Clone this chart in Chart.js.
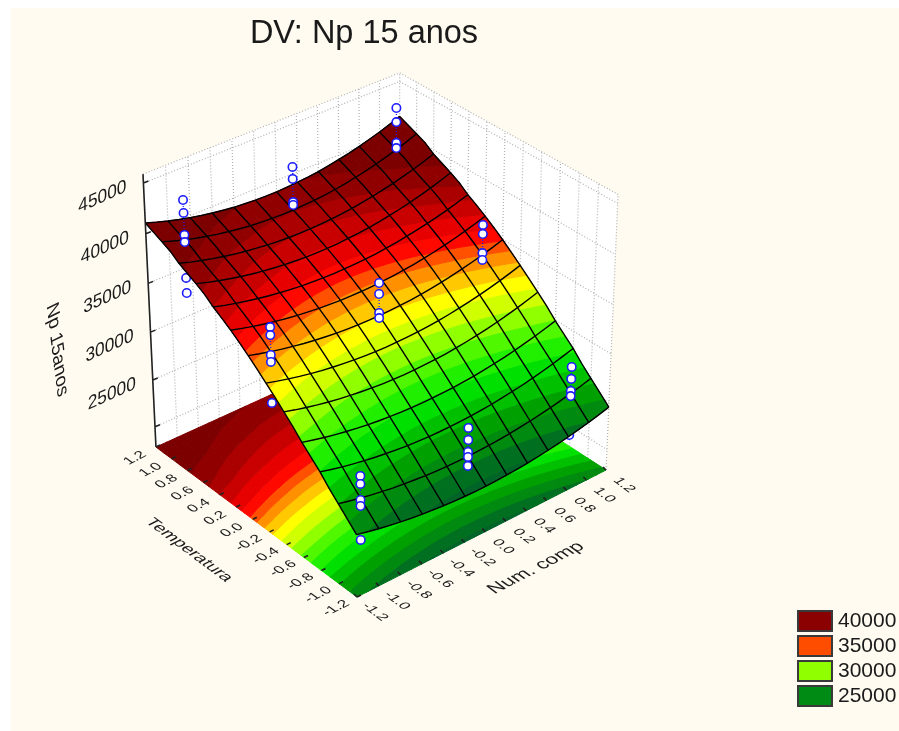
<!DOCTYPE html>
<html><head><meta charset="utf-8">
<style>html,body{margin:0;padding:0;background:#fff}canvas{display:block}</style>
<script src="https://cdn.jsdelivr.net/npm/chart.js@4"></script></head>
<body><canvas id="c" width="899" height="731"></canvas>
<script>
const titleText = 'DV: Np 15 anos';
const tempTicks = [1.2,1.0,0.8,0.6,0.4,0.2,0.0,-0.2,-0.4,-0.6,-0.8,-1.0,-1.2];
const compTicks = [-1.2,-1.0,-0.8,-0.6,-0.4,-0.2,0.0,0.2,0.4,0.6,0.8,1.0,1.2];
const zTicks = [45000,40000,35000,30000,25000];
const zGrid = [45000,40000,35000,30000,25000,20000];
const gridT = [-1.2,-1.1,-1.0,-0.9,-0.8,-0.7,-0.6,-0.5,-0.4,-0.3,-0.2,-0.1,0,0.1,0.2,0.3,0.4,0.5,0.6,0.7,0.8,0.9,1.0,1.1,1.2];
const gridN = gridT.slice();
const surfaceZ = [
[24230,23960,23710,23490,23300,23120,22980,22860,22750,22680,22630,22600,22600,22630,22670,22740,22840,22960,23110,23280,23470,23690,23930,24200,24490],
[25130,24860,24610,24390,24200,24020,23880,23760,23650,23580,23530,23500,23500,23530,23570,23640,23740,23860,24010,24180,24370,24590,24830,25100,25390],
[26030,25760,25510,25290,25100,24920,24780,24660,24550,24480,24430,24400,24400,24430,24470,24540,24640,24760,24910,25080,25270,25490,25730,26000,26290],
[26930,26660,26410,26190,26000,25820,25680,25560,25450,25380,25330,25300,25300,25330,25370,25440,25540,25660,25810,25980,26170,26390,26630,26900,27190],
[27940,27650,27380,27150,26940,26750,26600,26470,26360,26280,26230,26200,26200,26230,26280,26350,26450,26590,26750,26920,27130,27370,27620,27910,28220],
[28790,28500,28230,28000,27790,27600,27450,27320,27210,27130,27080,27050,27050,27080,27130,27200,27300,27440,27600,27770,27980,28220,28470,28760,29070],
[29640,29350,29080,28850,28640,28450,28300,28170,28060,27980,27930,27900,27900,27930,27980,28050,28150,28290,28450,28620,28830,29070,29320,29610,29920],
[30600,30290,30010,29760,29540,29340,29180,29040,28920,28840,28780,28750,28750,28780,28830,28910,29020,29160,29330,29520,29740,29990,30260,30570,30900],
[31450,31140,30860,30610,30390,30190,30030,29890,29770,29690,29630,29600,29600,29630,29680,29760,29870,30010,30180,30370,30590,30840,31110,31420,31750],
[32300,31990,31710,31460,31240,31040,30880,30740,30620,30540,30480,30450,30450,30480,30530,30610,30720,30860,31030,31220,31440,31690,31960,32270,32600],
[33100,32790,32510,32260,32040,31840,31680,31540,31420,31340,31280,31250,31250,31280,31330,31410,31520,31660,31830,32020,32240,32490,32760,33070,33400],
[33900,33590,33310,33060,32840,32640,32480,32340,32220,32140,32080,32050,32050,32080,32130,32210,32320,32460,32630,32820,33040,33290,33560,33870,34200],
[34650,34340,34060,33810,33590,33390,33230,33090,32970,32890,32830,32800,32800,32830,32880,32960,33070,33210,33380,33570,33790,34040,34310,34620,34950],
[35350,35040,34760,34510,34290,34090,33930,33790,33670,33590,33530,33500,33500,33530,33580,33660,33770,33910,34080,34270,34490,34740,35010,35320,35650],
[36000,35690,35410,35160,34940,34740,34580,34440,34320,34240,34180,34150,34150,34180,34230,34310,34420,34560,34730,34920,35140,35390,35660,35970,36300],
[36600,36290,36010,35760,35540,35340,35180,35040,34920,34840,34780,34750,34750,34780,34830,34910,35020,35160,35330,35520,35740,35990,36260,36570,36900],
[37150,36840,36560,36310,36090,35890,35730,35590,35470,35390,35330,35300,35300,35330,35380,35460,35570,35710,35880,36070,36290,36540,36810,37120,37450],
[37840,37490,37190,36910,36670,36450,36270,36120,35990,35900,35830,35800,35800,35830,35890,35980,36100,36250,36440,36650,36890,37160,37460,37800,38170],
[38340,37990,37690,37410,37170,36950,36770,36620,36490,36400,36330,36300,36300,36330,36390,36480,36600,36750,36940,37150,37390,37660,37960,38300,38670],
[38790,38440,38140,37860,37620,37400,37220,37070,36940,36850,36780,36750,36750,36780,36840,36930,37050,37200,37390,37600,37840,38110,38410,38750,39120],
[39240,38890,38590,38310,38070,37850,37670,37520,37390,37300,37230,37200,37200,37230,37290,37380,37500,37650,37840,38050,38290,38560,38860,39200,39570],
[39870,39500,39160,38860,38600,38360,38170,38000,37850,37760,37690,37650,37650,37690,37750,37840,37970,38140,38350,38570,38840,39140,39460,39830,40230],
[40270,39900,39560,39260,39000,38760,38570,38400,38250,38160,38090,38050,38050,38090,38150,38240,38370,38540,38750,38970,39240,39540,39860,40230,40630],
[40670,40300,39960,39660,39400,39160,38970,38800,38650,38560,38490,38450,38450,38490,38550,38640,38770,38940,39150,39370,39640,39940,40260,40630,41030],
[41070,40700,40360,40060,39800,39560,39370,39200,39050,38960,38890,38850,38850,38890,38950,39040,39170,39340,39550,39770,40040,40340,40660,41030,41430]
];
const highT = [1,1,1,1, 1,1,1,1, 1,1,1,1, 0,0,0,0, 0,0,0,0, 0,0,0,0, -1,-1,-1,-1, -1,-1,-1,-1,-1, -1,-1,-1,-1];
const highN = [-1,-1,-1,-1, 0,0,0,0, 1,1,1,1, -1,-1,-1,-1, 0,0,0,0, 1,1,1,1, -1,-1,-1,-1, 0,0,0,0,0, 1,1,1,1];
const highZ = [43500,42230,40050,39340, 42400,41200,38860,38560, 44100,42670,40540,40020, 36500,35700,33720,33020, 36110,35000,33080,32560, 37370,36450,34500,33790, 27750,26940,25320,24700, 27320,26080,24850,24330,23400, 28480,27240,25980,25450];
const lowT = [1,1,0,-1,-1];
const lowN = [-1,-1,-1,-1,1];
const lowZ = [35730,34200,28870,21220,21350];
const bandFloors = [0,23000,24000,25000,26000,27000,28000,29000,30000,31000,32000,32800,33600,34300,34900,35600,36400,37200,38000,39000];
const bandColors = ['#006428','#007020','#008a10','#00a000','#00c000','#00e000','#20f000','#50f800','#90ff00','#d0ff00','#ffff00','#ffc800','#ff9000','#ff5000','#ff0800','#e60000','#c80000','#aa0000','#900000','#7d0000'];
const legendLabels = ['40000','35000','30000','25000'];
const legendColors = ['#8b0000','#ff4d00','#90ff00','#008b14'];

const zMin = 17820, zMax = 45870;
function project(t, n, z) {
  const u = (t + 1.2) / 2.4, v = (n + 1.2) / 2.4, w = (z - zMin) / (zMax - zMin);
  const a = 0.0746 * u, b = 0.0601 * v, g = -0.0562 * w;
  const h = 1 + a + b + g;
  return { x: (357 + a * -2539 + b * 4750 + g * 391) / h, y: (597 + a * -1563 + b * -1643 + g * 5393) / h };
}
const GAP = { x: null, y: null };
function clipTri(tri, lo, hi) {
  let poly = tri;
  for (const [lim, sign] of [[lo, 1], [hi, -1]]) {
    const out = [];
    for (let i = 0; i < poly.length; i++) {
      const p = poly[i], q = poly[(i + 1) % poly.length];
      const dp = (p.z - lim) * sign, dq = (q.z - lim) * sign;
      if (dp >= 0) out.push(p);
      if ((dp >= 0) !== (dq >= 0)) {
        const f = dp / (dp - dq);
        out.push({ t: p.t + f * (q.t - p.t), n: p.n + f * (q.n - p.n), z: p.z + f * (q.z - p.z) });
      }
    }
    poly = out;
    if (!poly.length) break;
  }
  return poly;
}
function bandData(idx, floorOnly) {
  const lo = bandFloors[idx], hi = idx + 1 < bandFloors.length ? bandFloors[idx + 1] : 1e9;
  const pts = [];
  for (let i = 0; i < gridT.length - 1; i++) for (let j = 0; j < gridN.length - 1; j++) {
    const A = { t: gridT[i], n: gridN[j], z: surfaceZ[i][j] }, B = { t: gridT[i + 1], n: gridN[j], z: surfaceZ[i + 1][j] },
      C = { t: gridT[i + 1], n: gridN[j + 1], z: surfaceZ[i + 1][j + 1] }, D = { t: gridT[i], n: gridN[j + 1], z: surfaceZ[i][j + 1] };
    for (const tri of [[A, B, C], [A, C, D]]) {
      const poly = clipTri(tri, lo, hi);
      if (poly.length < 3) continue;
      for (const p of poly) pts.push(project(p.t, p.n, floorOnly ? zMin : p.z));
      const p0 = poly[0];
      pts.push(project(p0.t, p0.n, floorOnly ? zMin : p0.z));
      pts.push(GAP);
    }
  }
  return pts;
}
function seg(list, a, b) { list.push(a, b, GAP); }
const lineBase = { showLine: true, pointRadius: 0, pointHoverRadius: 0, fill: false, tension: 0, spanGaps: false, clip: false };

const layers = [];
// back walls
const wallL = [project(1.2,-1.2,zMin),project(1.2,1.2,zMin),project(1.2,1.2,zMax),project(1.2,-1.2,zMax)];
const wallR = [project(1.2,1.2,zMin),project(-1.2,1.2,zMin),project(-1.2,1.2,zMax),project(1.2,1.2,zMax)];
layers.push({ ...lineBase, data: [...wallL, wallL[0], GAP, ...wallR, wallR[0]], fill: 'shape', backgroundColor: '#ffffff', borderColor: '#ffffff', borderWidth: 0 });
const wallGrid = [];
for (const z of [...zGrid, zMax]) {
  seg(wallGrid, project(1.2,-1.2,z), project(1.2,1.2,z));
  seg(wallGrid, project(1.2,1.2,z), project(-1.2,1.2,z));
}
for (const n of compTicks) seg(wallGrid, project(1.2,n,zMin), project(1.2,n,zMax));
for (const t of tempTicks) seg(wallGrid, project(t,1.2,zMin), project(t,1.2,zMax));
layers.push({ ...lineBase, data: wallGrid, borderColor: '#b0b0b0', borderWidth: 1.2, borderDash: [1, 2] });
// floor contour map
bandColors.forEach((c, i) => layers.push({ ...lineBase, data: bandData(i, true), fill: 'shape', backgroundColor: c, borderColor: c, borderWidth: 1 }));
// points hidden by the surface
const lowPts = lowT.map((t, i) => project(t, lowN[i], lowZ[i]));
const pointStyle = { showLine: false, pointRadius: 4.2, pointHoverRadius: 4.2, pointBackgroundColor: '#ffffff', pointBorderColor: '#1c1cff', pointBorderWidth: 1.6, clip: false };
layers.push({ ...pointStyle, data: lowPts });
// surface
bandColors.forEach((c, i) => layers.push({ ...lineBase, data: bandData(i, false), fill: 'shape', backgroundColor: c, borderColor: c, borderWidth: 1 }));
// mesh: one dataset per grid line at every 0.2 step
gridT.forEach((t, i) => { if (i % 2) return; layers.push({ ...lineBase, data: gridN.map((n, j) => project(t, n, surfaceZ[i][j])), borderColor: '#000000', borderWidth: 1.4 }); });
gridN.forEach((n, j) => { if (j % 2) return; layers.push({ ...lineBase, data: gridT.map((t, i) => project(t, n, surfaceZ[i][j])), borderColor: '#000000', borderWidth: 1.4 }); });
// points above
const stems = [];
highT.forEach((t, i) => { if (i && highT[i - 1] === t && highN[i - 1] === highN[i]) seg(stems, project(t, highN[i], highZ[i - 1]), project(t, highN[i], highZ[i])); });
layers.push({ ...lineBase, data: stems, borderColor: '#1c1cff', borderWidth: 1.2, borderDash: [1, 2] });
layers.push({ ...pointStyle, data: highT.map((t, i) => project(t, highN[i], highZ[i])) });
// axis line and ticks
const axis = [project(1.2,-1.2,zMin), project(1.2,-1.2,zMax), GAP];
for (const z of zGrid) { const p = project(1.2,-1.2,z); seg(axis, p, { x: p.x + 5, y: p.y - 2 }); }
for (const t of tempTicks) { const p = project(t,-1.2,zMin); seg(axis, p, { x: p.x + 4, y: p.y - 2 }); }
for (const n of compTicks) { const p = project(-1.2,n,zMin); seg(axis, p, { x: p.x - 3, y: p.y - 3 }); }
layers.push({ ...lineBase, data: axis, borderColor: '#222222', borderWidth: 1.6 });

const N_DIR = [0.891, -0.454], T_DIR = [-0.801, -0.598], T_REV = [0.801, 0.598];
const textPlugin = {
  id: 'texts',
  beforeDraw(chart) {
    const ctx = chart.ctx; ctx.save();
    ctx.fillStyle = '#ffffff'; ctx.fillRect(0, 0, 899, 731);
    ctx.fillStyle = '#fffbf0'; ctx.fillRect(11, 8, 888, 723);
    ctx.restore();
  },
  afterDraw(chart) {
    const ctx = chart.ctx, sx = chart.scales.x, sy = chart.scales.y;
    const put = (str, x, y, base, up, font, align) => {
      ctx.save(); ctx.transform(base[0], base[1], -up[0], -up[1], x, y);
      ctx.font = font; ctx.fillStyle = '#1a1a1a'; ctx.textAlign = align || 'center'; ctx.textBaseline = 'middle';
      ctx.fillText(str, 0, 0); ctx.restore();
    };
    const F = '"Liberation Sans"', H = [1, 0], V = [0, -1];
    const scaled = (d, k) => [d[0] * k, d[1] * k];
    put(titleText, 364, 34, H, V, '32.5px ' + F);
    for (const t of tempTicks) { const p = project(t,-1.2,zMin); put(t.toFixed(1), sx.getPixelForValue(p.x) - 21, sy.getPixelForValue(p.y) + 11, N_DIR, scaled(T_DIR, 0.9), '15px ' + F); }
    for (const n of compTicks) { const p = project(-1.2,n,zMin); put(n.toFixed(1), sx.getPixelForValue(p.x) + 18, sy.getPixelForValue(p.y) + 15, T_REV, scaled(N_DIR, 0.9), '15px ' + F); }
    for (const z of zTicks) { const p = project(1.2,-1.2,z); put(String(z), sx.getPixelForValue(p.x) - 41, sy.getPixelForValue(p.y) + 14, [0.91, -0.41], V, '19px ' + F); }
    put('Np 15anos', 57, 350, [0.12, 1], [0.9, -0.44], '19px ' + F);
    put('Temperatura', 189, 550, T_REV, scaled(N_DIR, 0.9), '18px ' + F);
    put('Num. comp', 536, 568, N_DIR, scaled(T_DIR, 0.9), '20px ' + F);
    const rowY = [611, 636, 661, 686];
    legendLabels.forEach((l, i) => {
      ctx.fillStyle = legendColors[i]; ctx.fillRect(798, rowY[i], 34, 20);
      ctx.strokeStyle = '#3a3a3a'; ctx.lineWidth = 2; ctx.strokeRect(798, rowY[i], 34, 20);
      put(l, 838, rowY[i] + 10, H, V, '21px ' + F, 'left');
    });
  }
};
layers.reverse();
new Chart(document.getElementById('c'), {
  type: 'scatter',
  data: { datasets: layers },
  options: {
    responsive: false, animation: false, events: [],
    layout: { padding: 0, autoPadding: false },
    plugins: { legend: { display: false }, title: { display: false }, tooltip: { enabled: false } },
    scales: {
      x: { type: 'linear', display: false, min: 0, max: 899 },
      y: { type: 'linear', display: false, min: 0, max: 731, reverse: true }
    }
  },
  plugins: [textPlugin]
});
</script></body></html>
